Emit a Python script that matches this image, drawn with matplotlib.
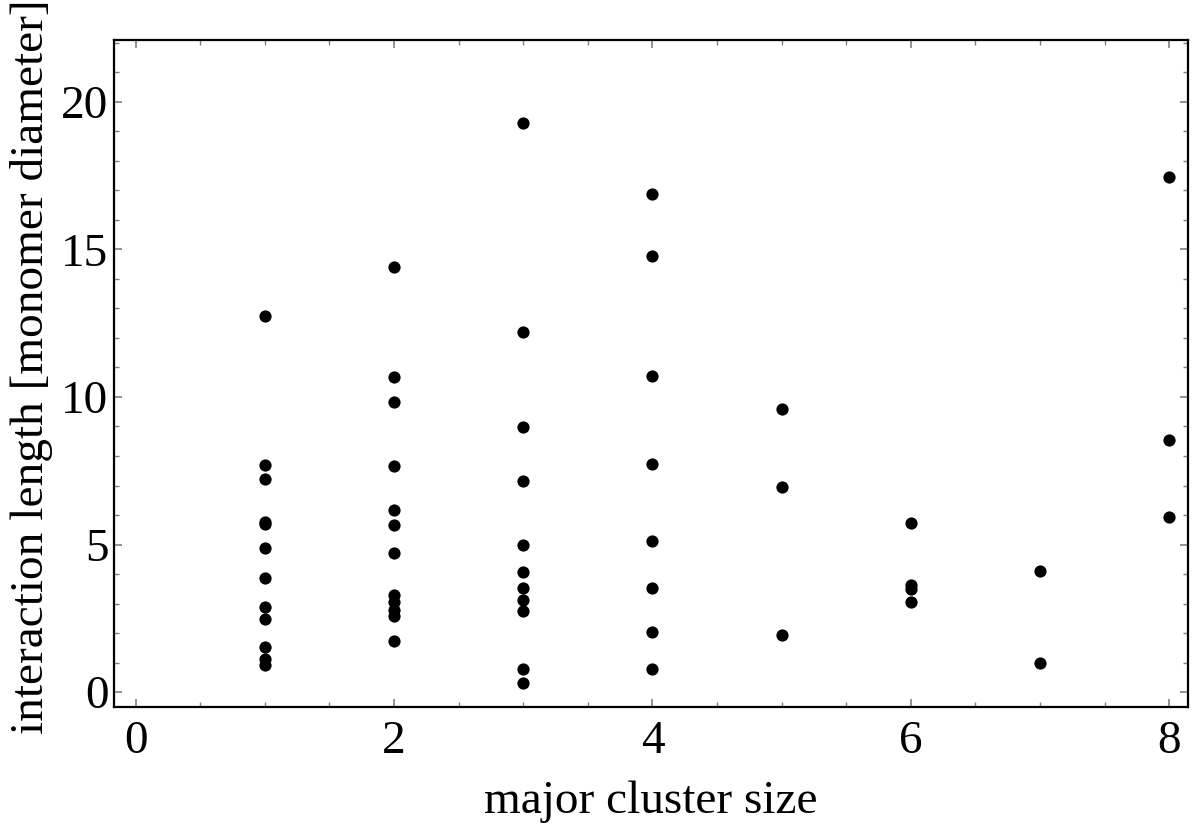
import matplotlib
matplotlib.use("Agg")
import matplotlib.pyplot as plt
from matplotlib.ticker import MultipleLocator

plt.rcParams['font.family'] = ['Liberation Serif', 'DejaVu Serif']
plt.rcParams['mathtext.fontset'] = 'stix'

size_1 = [12.75, 7.70, 7.23, 5.77, 5.70, 4.88, 3.88, 2.90, 2.48, 1.54, 1.12, 0.93]
size_2 = [14.41, 10.69, 9.82, 7.66, 6.16, 5.66, 4.73, 3.29, 3.05, 2.80, 2.57, 1.74]
size_3 = [19.27, 12.20, 8.97, 7.17, 4.99, 4.08, 3.52, 3.13, 2.74, 0.80, 0.31]
size_4 = [16.89, 14.76, 10.71, 7.72, 5.12, 3.52, 2.03, 0.78]
size_5 = [9.60, 6.94, 1.95]
size_6 = [5.74, 3.62, 3.50, 3.05]
size_7 = [4.11, 0.99]
size_8 = [17.44, 8.54, 5.94]

cluster_sizes = [1, 2, 3, 4, 5, 6, 7, 8]
lengths = [size_1, size_2, size_3, size_4, size_5, size_6, size_7, size_8]

x_label = "major cluster size"
y_label = "interaction length [monomer diameter]"

FS = 34

fig = plt.figure(figsize=(12, 8.3), dpi=100)
ax = fig.add_axes([0.095, 0.1486, 0.895, 0.8032])

for cs, vals in zip(cluster_sizes, lengths):
    ax.plot([cs] * len(vals), vals, 'o', color='black', markersize=8.8,
            markeredgewidth=0, linestyle='none')

ax.set_xlim(-0.168, 8.145)
ax.set_ylim(-0.49, 22.09)

ax.xaxis.set_major_locator(MultipleLocator(2))
ax.xaxis.set_minor_locator(MultipleLocator(0.5))
ax.yaxis.set_major_locator(MultipleLocator(5))
ax.yaxis.set_minor_locator(MultipleLocator(1))

ax.tick_params(which='both', direction='in', top=True, right=True,
               color='#808080', labelsize=FS)
ax.tick_params(axis='x', which='major', pad=10)
ax.tick_params(axis='y', which='major', pad=4)
ax.tick_params(which='major', length=6, width=1.2)
ax.tick_params(which='minor', length=3.5, width=1.0)

for sp in ax.spines.values():
    sp.set_linewidth(1.6)
    sp.set_color('black')

ax.set_xlabel(x_label, fontsize=FS)
ax.set_ylabel(y_label, fontsize=FS)
ax.xaxis.set_label_coords(0.5, -0.111)
ax.yaxis.set_label_coords(-0.057, 0.51)

fig.savefig("out.png", dpi=100)
